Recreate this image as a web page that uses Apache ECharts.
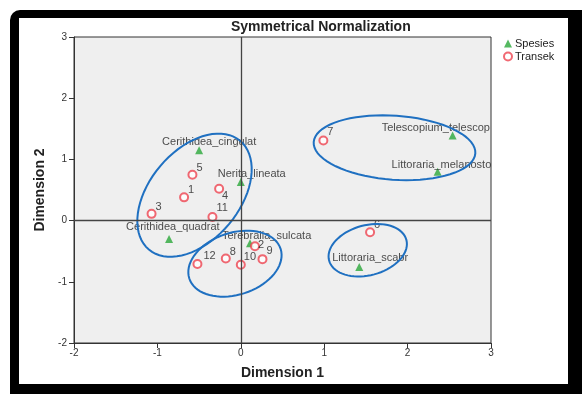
<!DOCTYPE html>
<html>
<head>
<meta charset="utf-8">
<script src="https://cdn.jsdelivr.net/npm/echarts@6/dist/echarts.min.js"></script>
<style>
  html, body { margin: 0; padding: 0; background: #ffffff; }
  #frame { position: absolute; left: 10px; top: 10px; width: 572px; height: 384px;
           background: #000000; border-top-left-radius: 10px; }
  #panel { position: absolute; left: 19px; top: 18px; width: 549px; height: 366px; background: #ffffff; }
  #chart { position: absolute; left: 0; top: 0; width: 582px; height: 394px; }
</style>
</head>
<body>
<div id="frame"></div>
<div id="panel"></div>
<div id="chart"></div>
<script>
// Row points (species) and column points (transects) of the correspondence map
const speciesNames = ['Cerithidea_cingulat', 'Nerita_lineata', 'Cerithidea_quadrat', 'Terebralia_sulcata',
                      'Telescopium_telescop', 'Littoraria_melanosto', 'Littoraria_scabr'];
const speciesDim1 = [-0.50, 0.00, -0.86, 0.11, 2.54, 2.36, 1.42];
const speciesDim2 = [1.15, 0.63, -0.30, -0.37, 1.39, 0.80, -0.76];

const transectNames = ['1', '2', '3', '4', '5', '6', '7', '8', '9', '10', '11', '12'];
const transectDim1 = [-0.68, 0.17, -1.07, -0.26, -0.58, 1.55, 0.99, -0.18, 0.26, 0.00, -0.34, -0.52];
const transectDim2 = [0.38, -0.42, 0.11, 0.52, 0.75, -0.19, 1.31, -0.62, -0.63, -0.72, 0.06, -0.71];

const axisTicks = [-2, -1, 0, 1, 2, 3];

// label placement (pixels from marker centre to left edge / middle of text)
const speciesLabelShift = [[-37, -8], [-23, -8], [-43, -12], [-28, -7], [-71, -8], [-46, -7], [-27, -9]];
const transectLabelShift = [[5, -6], [4, 0], [5, -6], [4, 8], [5, -6], [5, -6], [5, -7], [5, -6], [5, -7], [4, -7], [5, -8], [7, -7]];

// hand-drawn group outlines: centre in data units, radii in px, tilt in degrees
const groupOutlines = [
  { cx: -0.555, cy: 0.415, rx: 71, ry: 45, tilt: 50 },
  { cx: -0.07, cy: -0.704, rx: 48, ry: 31, tilt: 18 },
  { cx: 1.843, cy: 1.191, rx: 81, ry: 32, tilt: -4 },
  { cx: 1.522, cy: -0.484, rx: 40, ry: 25, tilt: 15 }
];

const SYM = 8;
const FONT = 'Liberation Sans, Arial, sans-serif';
const labelFont = { fontFamily: FONT, fontSize: 11, color: '#222' };

function pointData(xs, ys, names, shifts) {
  return xs.map((x, i) => ({
    value: [x, ys[i]],
    name: names[i],
    label: {
      show: true,
      formatter: names[i],
      position: [SYM / 2 + shifts[i][0], SYM / 2 + shifts[i][1]],
      align: 'left',
      verticalAlign: 'middle'
    }
  }));
}

const chart = echarts.init(document.getElementById('chart'), null, { renderer: 'canvas' });

const axisCommon = {
  type: 'value',
  min: axisTicks[0],
  max: axisTicks[axisTicks.length - 1],
  interval: 1,
  axisLine: { show: true, onZero: false, lineStyle: { color: '#333', width: 1 } },
  axisTick: { show: true, inside: false, length: 5, lineStyle: { color: '#333' } },
  splitLine: { show: false },
  nameLocation: 'middle',
  nameTextStyle: { fontSize: 14, fontWeight: 'bold', color: '#222', fontFamily: FONT }
};

chart.setOption({
  animation: false,
  backgroundColor: 'transparent',
  title: {
    text: 'Symmetrical Normalization',
    left: 231,
    top: 20,
    padding: 0,
    textStyle: { fontSize: 14, fontWeight: 'bold', color: '#222', fontFamily: FONT }
  },
  legend: {
    orient: 'vertical',
    left: 503,
    top: 38,
    padding: 0,
    itemWidth: 8,
    itemHeight: 8,
    itemGap: 2,
    data: ['Spesies', 'Transek'],
    textStyle: { fontSize: 11, color: '#222', fontFamily: FONT, padding: [0, 0, 0, -2] }
  },
  grid: {
    left: 74, top: 37, width: 417, height: 306,
    show: true, backgroundColor: '#efefef', borderColor: '#333', borderWidth: 1
  },
  xAxis: Object.assign({}, axisCommon, {
    name: 'Dimension 1', nameGap: 23,
    axisLabel: { fontSize: 10, color: '#333', fontFamily: FONT, margin: 5 }
  }),
  yAxis: Object.assign({}, axisCommon, {
    name: 'Dimension 2', nameGap: 25,
    axisLabel: { fontSize: 10, color: '#333', fontFamily: FONT, margin: 7 }
  }),
  series: [
    {
      name: 'Spesies',
      type: 'scatter',
      symbol: 'triangle',
      symbolSize: SYM,
      itemStyle: { color: '#2aa83a' },
      label: labelFont,
      data: pointData(speciesDim1, speciesDim2, speciesNames, speciesLabelShift),
      markLine: {
        silent: true,
        symbol: 'none',
        label: { show: false },
        lineStyle: { color: '#444', width: 1.3, type: 'solid' },
        data: [{ xAxis: 0 }, { yAxis: 0 }]
      },
      z: 3
    },
    {
      name: 'Transek',
      type: 'scatter',
      symbol: 'emptyCircle',
      symbolSize: SYM,
      itemStyle: { color: '#ee4450', borderWidth: 1.6 },
      label: labelFont,
      data: pointData(transectDim1, transectDim2, transectNames, transectLabelShift),
      z: 3
    },
    {
      type: 'custom',
      silent: true,
      clip: false,
      z: 4,
      data: groupOutlines.map(o => [o.cx, o.cy]),
      renderItem: function (params, api) {
        const o = groupOutlines[params.dataIndex];
        const c = api.coord([api.value(0), api.value(1)]);
        const th = o.tilt * Math.PI / 180;
        const pts = [];
        for (let k = 0; k < 72; k++) {
          const t = k / 72 * Math.PI * 2;
          const ex = o.rx * Math.cos(t), ey = o.ry * Math.sin(t);
          pts.push([c[0] + ex * Math.cos(th) - ey * Math.sin(th),
                    c[1] - (ex * Math.sin(th) + ey * Math.cos(th))]);
        }
        return {
          type: 'polygon',
          shape: { points: pts },
          style: { fill: 'none', stroke: '#1f70c1', lineWidth: 2 }
        };
      }
    }
  ]
});
</script>
</body>
</html>
